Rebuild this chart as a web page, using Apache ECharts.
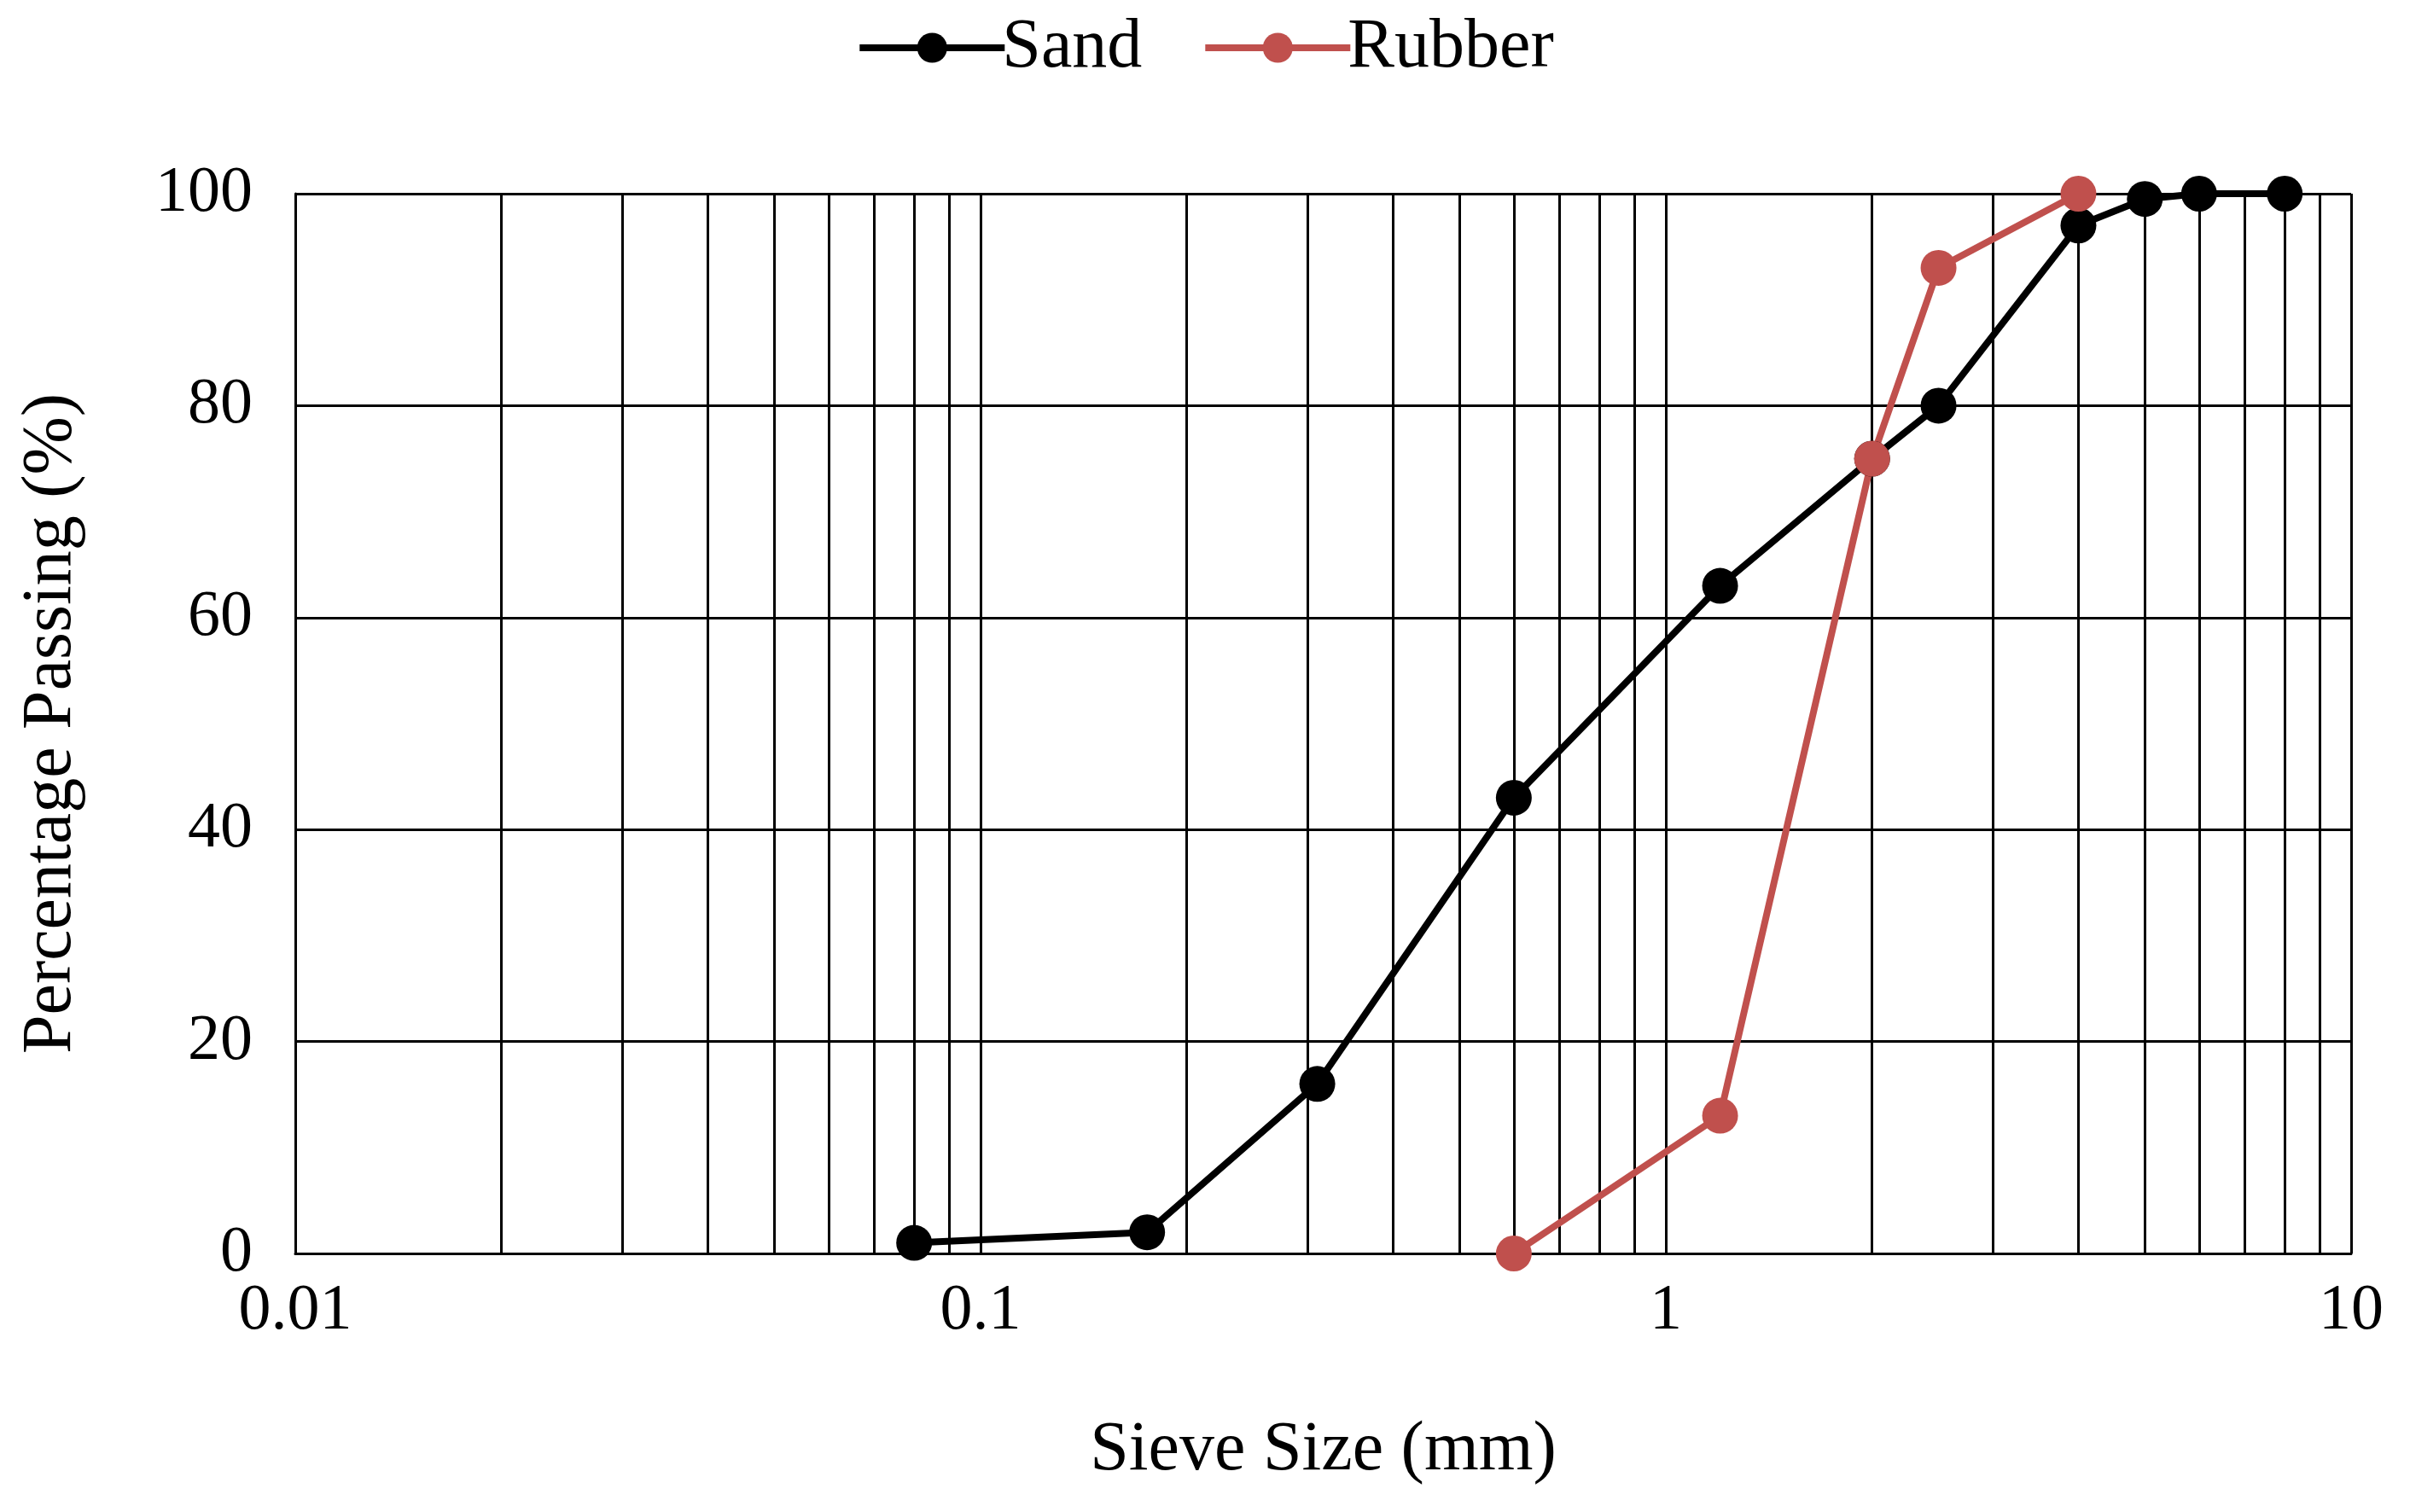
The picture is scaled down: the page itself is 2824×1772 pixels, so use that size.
<!DOCTYPE html>
<html><head><meta charset="utf-8">
<script src="https://cdn.jsdelivr.net/npm/echarts@6/dist/echarts.min.js"></script>
<style>html,body{margin:0;background:#fff}#c{width:2824px;height:1772px}</style>
</head><body><div id="c"></div>
<script>
var sandSize = [0.08, 0.175, 0.31, 0.6, 1.2, 2.0, 2.5, 4.0, 5.0, 6.0, 8.0];
var sandPass = [1, 2, 16, 43, 63, 75, 80, 97, 99.5, 100, 100];
var rubberSize = [0.6, 1.2, 2.0, 2.5, 4.0];
var rubberPass = [0, 13, 75, 93, 100];

function pairs(xs, ys){ return xs.map(function(x, i){ return [x, ys[i]]; }); }

var font = 'Liberation Serif';
var chart = echarts.init(document.getElementById('c'));
chart.setOption({
  backgroundColor: '#fff',
  textStyle: {fontFamily: font},
  legend: {
    top: 10, left: 'center', itemWidth: 170, itemHeight: 44, itemGap: 70,
    lineStyle: {width: 8},
    textStyle: {fontFamily: font, fontSize: 82, color: '#000', padding: [0, 0, 0, -8]},
    data: ['Sand', 'Rubber']
  },
  grid: {left: 346, right: 69, top: 227, bottom: 303},
  xAxis: {
    type: 'log', logBase: 10, min: 0.01, max: 10,
    name: 'Sieve Size (mm)', nameLocation: 'middle', nameGap: 190,
    nameTextStyle: {fontFamily: font, fontSize: 82, color: '#000'},
    axisLine: {lineStyle: {color: '#000', width: 3}},
    axisTick: {show: false},
    axisLabel: {fontFamily: font, fontSize: 76, color: '#000', margin: 30},
    splitLine: {show: true, lineStyle: {color: '#000', width: 3}},
    minorTick: {show: false, splitNumber: 9},
    minorSplitLine: {show: true, lineStyle: {color: '#000', width: 3}}
  },
  yAxis: {
    type: 'value', min: 0, max: 100, interval: 20,
    name: 'Percentage Passing (%)', nameLocation: 'middle', nameGap: 245,
    nameTextStyle: {fontFamily: font, fontSize: 82, color: '#000'},
    axisLine: {show: true, lineStyle: {color: '#000', width: 3}},
    axisTick: {show: false},
    axisLabel: {fontFamily: font, fontSize: 76, color: '#000', margin: 50},
    splitLine: {show: true, lineStyle: {color: '#000', width: 3}}
  },
  series: [
    {name: 'Sand', type: 'line', data: pairs(sandSize, sandPass), symbol: 'circle', symbolSize: 42,
     lineStyle: {color: '#000', width: 8}, itemStyle: {color: '#000'}},
    {name: 'Rubber', type: 'line', data: pairs(rubberSize, rubberPass), symbol: 'circle', symbolSize: 42,
     lineStyle: {color: '#c0504d', width: 8}, itemStyle: {color: '#c0504d'}}
  ]
});
</script>
</body></html>
